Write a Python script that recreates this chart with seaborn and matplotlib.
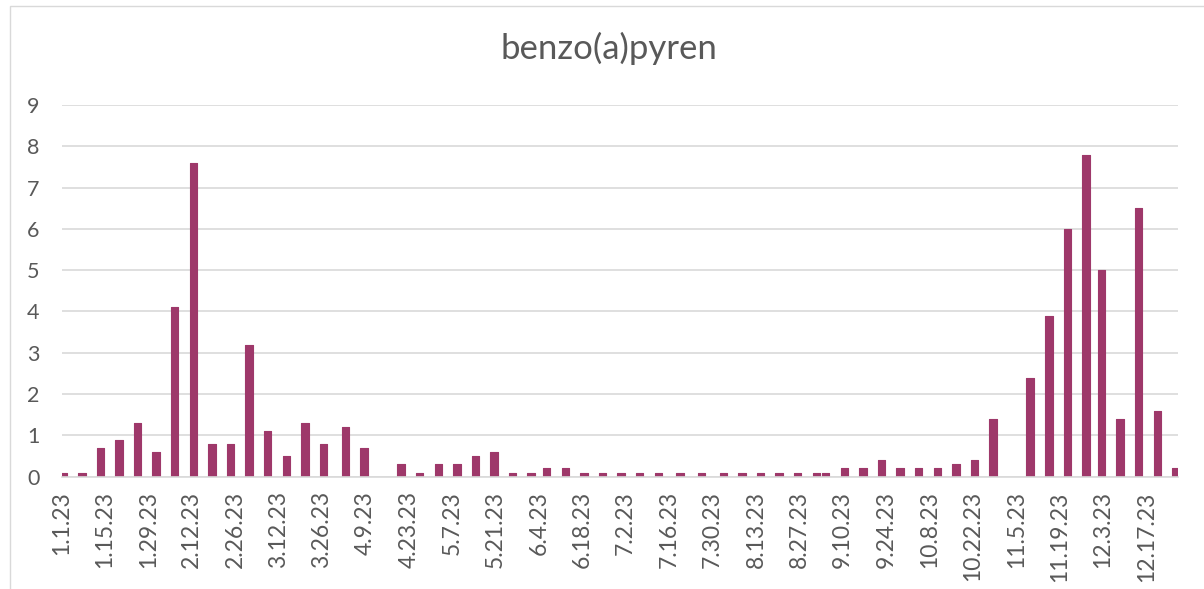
import numpy as np
import pandas as pd
import matplotlib.pyplot as plt
import matplotlib.dates as mdates
from matplotlib.patches import Rectangle
import seaborn as sns

# sample dates (2023) and benzo(a)pyren values
sample_dates = [
    "2023-01-01", "2023-01-07", "2023-01-13", "2023-01-19", "2023-01-25", "2023-01-31",
    "2023-02-06", "2023-02-12", "2023-02-18", "2023-02-24", "2023-03-02", "2023-03-08",
    "2023-03-14", "2023-03-20", "2023-03-26", "2023-04-02", "2023-04-08", "2023-04-20",
    "2023-04-26", "2023-05-02", "2023-05-08", "2023-05-14", "2023-05-20", "2023-05-26",
    "2023-06-01", "2023-06-06", "2023-06-12", "2023-06-18", "2023-06-24", "2023-06-30",
    "2023-07-06", "2023-07-12", "2023-07-19", "2023-07-26", "2023-08-02", "2023-08-08",
    "2023-08-14", "2023-08-20", "2023-08-26", "2023-09-01", "2023-09-04", "2023-09-10",
    "2023-09-16", "2023-09-22", "2023-09-28", "2023-10-04", "2023-10-10", "2023-10-16",
    "2023-10-22", "2023-10-28", "2023-11-09", "2023-11-15", "2023-11-21", "2023-11-27",
    "2023-12-02", "2023-12-08", "2023-12-14", "2023-12-20", "2023-12-26",
]
bap_values = [
    0.1, 0.1, 0.7, 0.9, 1.3, 0.6,
    4.1, 7.6, 0.8, 0.8, 3.2, 1.1,
    0.5, 1.3, 0.8, 1.2, 0.7, 0.3,
    0.1, 0.3, 0.3, 0.5, 0.6, 0.1,
    0.1, 0.2, 0.2, 0.1, 0.1, 0.1,
    0.1, 0.1, 0.1, 0.1, 0.1, 0.1,
    0.1, 0.1, 0.1, 0.1, 0.1, 0.2,
    0.2, 0.4, 0.2, 0.2, 0.2, 0.3,
    0.4, 1.4, 2.4, 3.9, 6.0, 7.8,
    5.0, 1.4, 6.5, 1.6, 0.2,
]
y_ticks = list(range(0, 10))
title = "benzo(a)pyren"

bar_color = "#9E386A"
text_color = "#595959"
grid_color = "#D9D9D9"

sns.set_theme(style="white")
plt.rcParams['font.family'] = ['Lato', 'DejaVu Sans']

df = pd.DataFrame({"date": pd.to_datetime(sample_dates), "value": bap_values})
df["day"] = mdates.date2num(df["date"])

fig = plt.figure(figsize=(12.04, 5.89), dpi=100)
ax = fig.add_axes([0.0512, 0.1907, 0.9275, 0.631])

sns.barplot(data=df, x="day", y="value", native_scale=True, color=bar_color,
            saturation=1, width=0.8, errorbar=None, ax=ax,
            edgecolor=bar_color, linewidth=0.8)
for p in ax.patches:
    p.set_joinstyle("round")

# date axis: ticks between days, every 14 days
start = mdates.date2num(pd.Timestamp("2023-01-01"))
tick_dates = pd.date_range("2023-01-01", "2023-12-17", freq="14D")
ax.set_xticks(mdates.date2num(tick_dates) - 0.5)
ax.set_xticklabels([f"{d.month}.{d.day}.23" for d in tick_dates], rotation=90,
                   color=text_color, fontsize=16.5)
ax.set_xlim(start - 0.5, start + 359.8)

ax.set_ylim(0, 9)
ax.set_yticks(y_ticks)
ax.set_yticklabels([str(v) for v in y_ticks], color=text_color, fontsize=15.5)
ax.yaxis.grid(True, color=grid_color, linewidth=1.2)
ax.set_axisbelow(True)
ax.set_xlabel("")
ax.set_ylabel("")

for s in ["top", "right", "left"]:
    ax.spines[s].set_visible(False)
ax.spines["bottom"].set_color(grid_color)
ax.spines["bottom"].set_linewidth(1.2)
ax.tick_params(axis="x", length=4.5, width=1, color=grid_color, pad=6, direction="out")
ax.tick_params(axis="y", length=0, pad=16)

fig.text(0.506, 0.918, title, ha="center", va="center", fontsize=25, color=text_color)

# chart area border
fig.add_artist(Rectangle((10 / 1204, -0.05), 1.0, 1.05 - 6 / 589, transform=fig.transFigure,
                         fill=False, edgecolor=grid_color, linewidth=1, clip_on=False))

fig.savefig("out.png", dpi=100)
